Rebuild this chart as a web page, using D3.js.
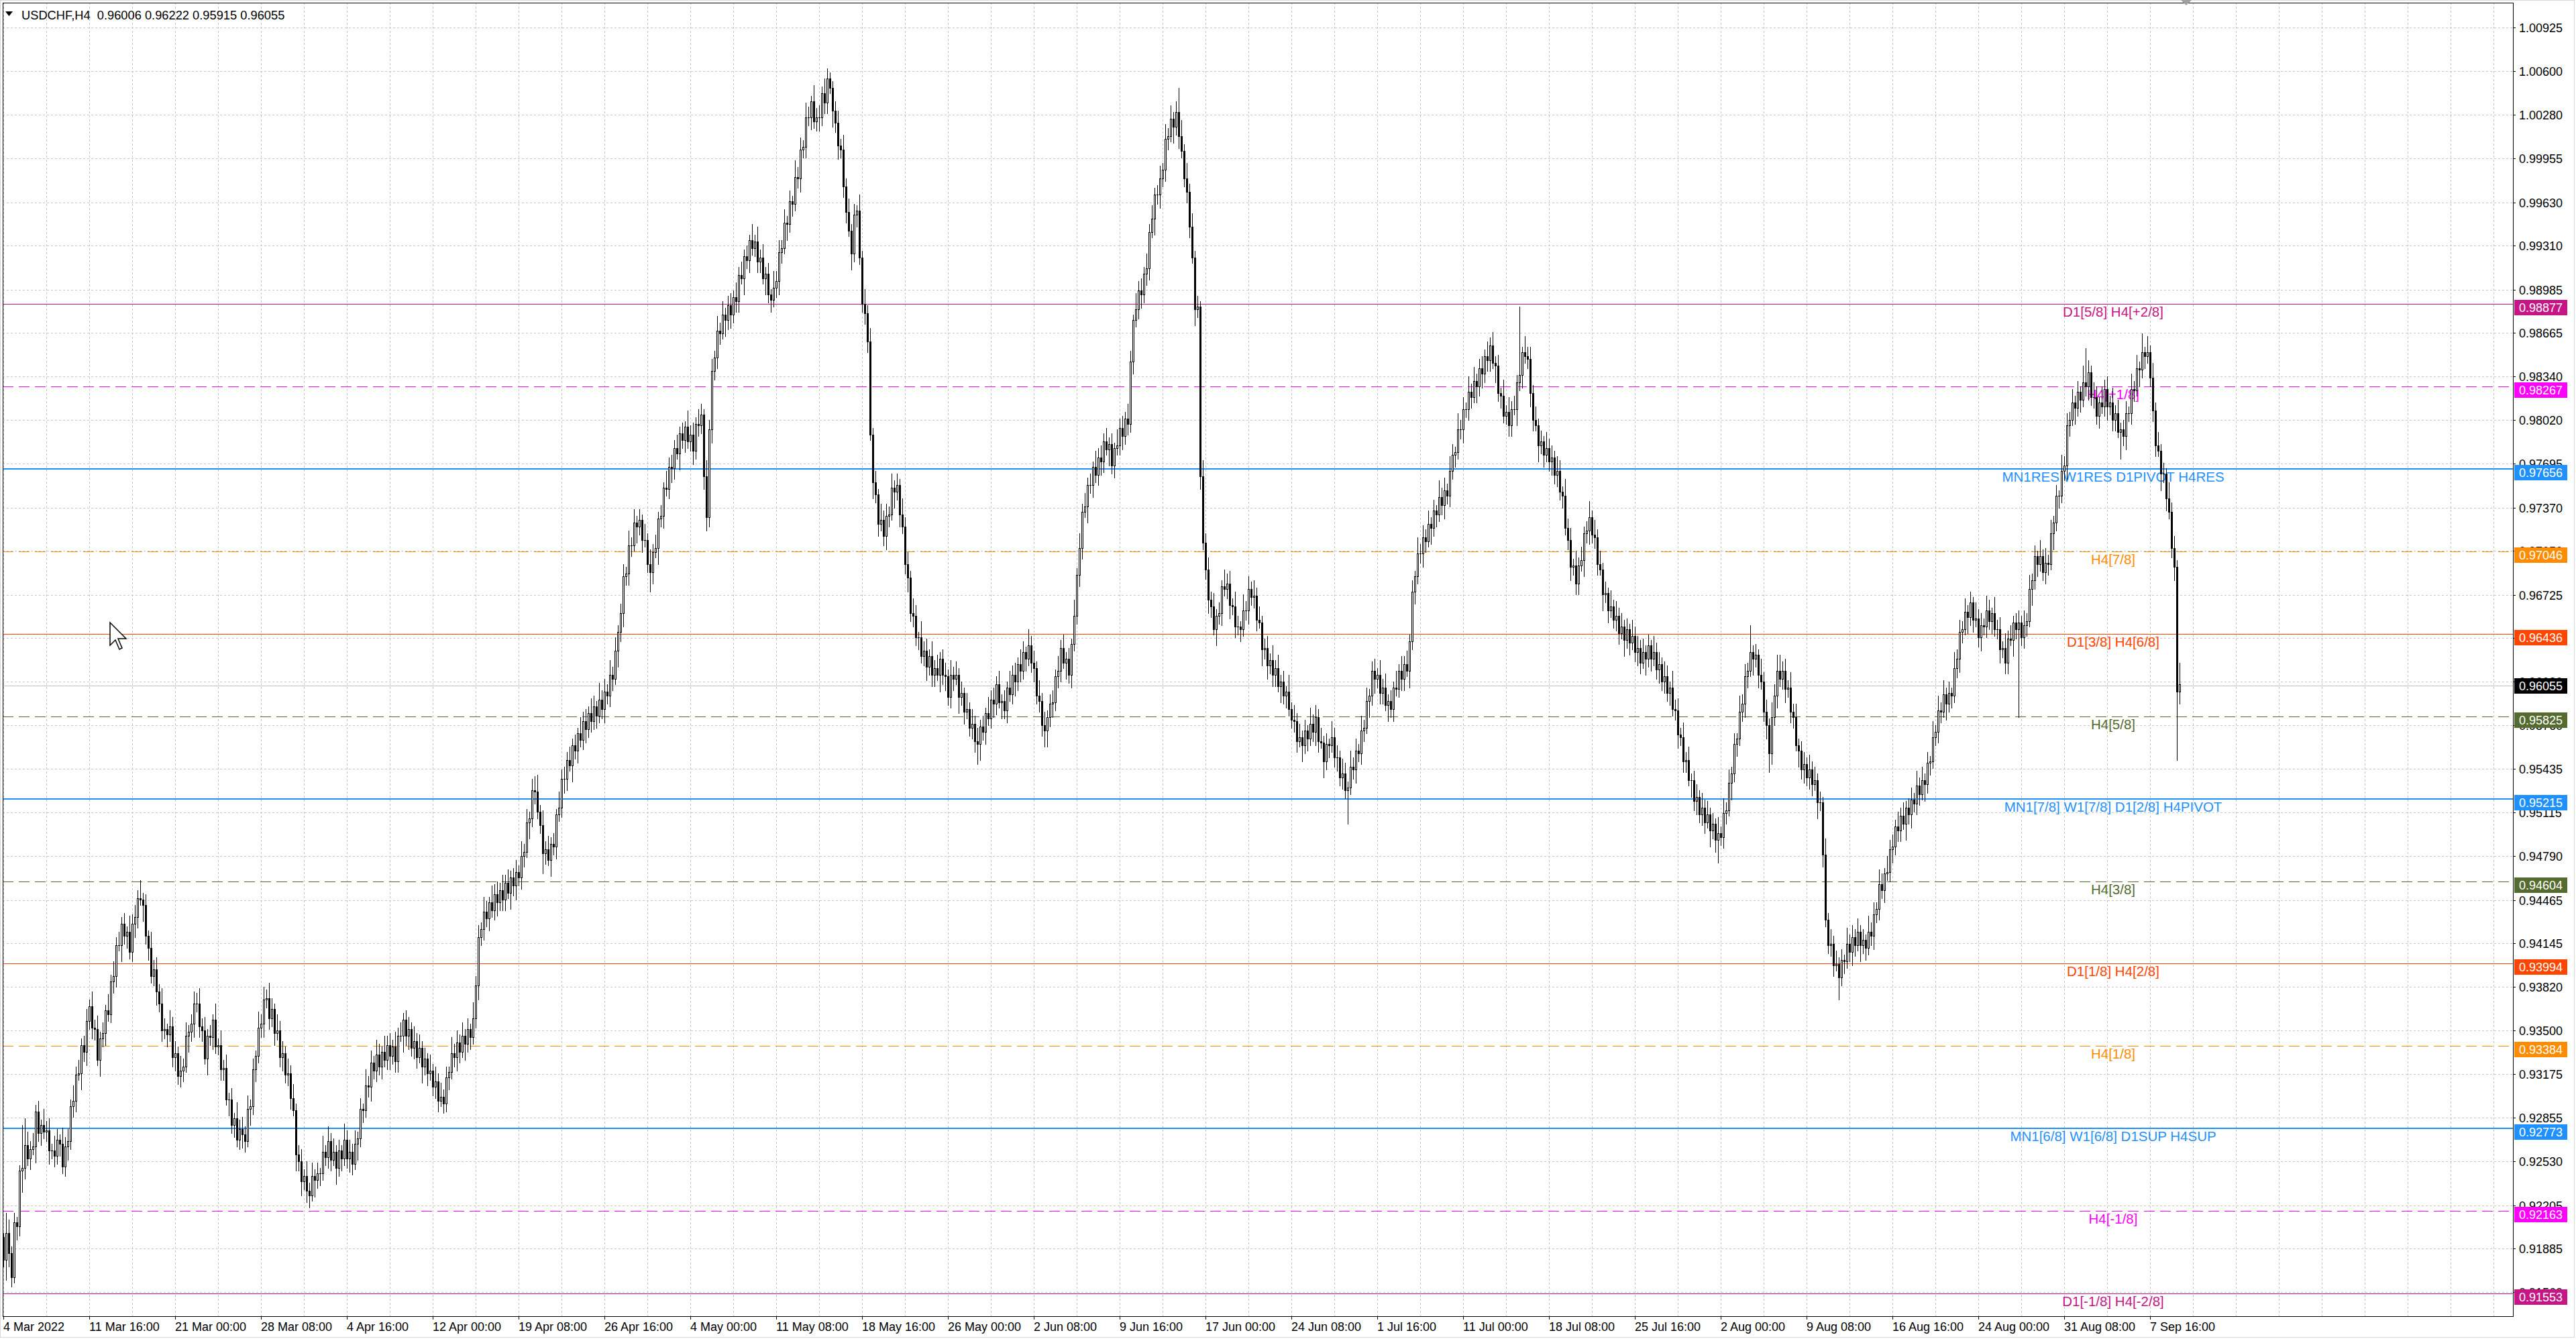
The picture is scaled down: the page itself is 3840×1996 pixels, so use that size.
<!DOCTYPE html>
<html><head><meta charset="utf-8">
<script src="https://cdn.jsdelivr.net/npm/d3@7"></script>
<style>
html,body{margin:0;padding:0;background:#fff;}
svg{display:block;}
text{font-family:"Liberation Sans",Arial,sans-serif;}
</style></head><body>
<svg id="c" width="3840" height="1996"></svg>
<script>
const symbol = "USDCHF,H4";
const lastBar = ["0.96006", "0.96222", "0.95915", "0.96055"];
const timeLabels = ["4 Mar 2022","11 Mar 16:00","21 Mar 00:00","28 Mar 08:00","4 Apr 16:00","12 Apr 00:00","19 Apr 08:00","26 Apr 16:00","4 May 00:00","11 May 08:00","18 May 16:00","26 May 00:00","2 Jun 08:00","9 Jun 16:00","17 Jun 00:00","24 Jun 08:00","1 Jul 16:00","11 Jul 00:00","18 Jul 08:00","25 Jul 16:00","2 Aug 00:00","9 Aug 08:00","16 Aug 16:00","24 Aug 00:00","31 Aug 08:00","7 Sep 16:00"];
const priceTicks = [1.00925,1.00600,1.00280,0.99955,0.99630,0.99310,0.98985,0.98665,0.98340,0.98020,0.97695,0.97370,0.97050,0.96725,0.96405,0.96080,0.95760,0.95435,0.95115,0.94790,0.94465,0.94145,0.93820,0.93500,0.93175,0.92855,0.92530,0.92205,0.91885,0.91560];
const levelPrices = [0.98877,0.98267,0.97656,0.97046,0.96436,0.95825,0.95215,0.94604,0.93994,0.93384,0.92773,0.92163,0.91553];
const levelNames = ["D1[5/8] H4[+2/8]","H4[+1/8]","MN1RES W1RES D1PIVOT H4RES","H4[7/8]","D1[3/8] H4[6/8]","H4[5/8]","MN1[7/8] W1[7/8] D1[2/8] H4PIVOT","H4[3/8]","D1[1/8] H4[2/8]","H4[1/8]","MN1[6/8] W1[6/8] D1SUP H4SUP","H4[-1/8]","D1[-1/8] H4[-2/8]"];
const bidPrice = 0.96055;

// OHLC in pips (price * 10000), one H4 bar per entry
const open = [
9197,9180,9200,9185,9167,9208,9205,9246,9248,9265,
9255,9262,9264,9290,9274,9280,9275,9276,9261,9261,
9257,9269,9266,9249,9264,9268,9294,9298,9317,9318,
9339,9334,9357,9368,9352,9351,9328,9344,9348,9365,
9362,9386,9390,9413,9413,9429,9420,9423,9408,9429,
9434,9448,9447,9443,9420,9411,9390,9395,9379,9370,
9350,9351,9347,9353,9330,9333,9316,9320,9323,9346,
9349,9355,9370,9370,9353,9350,9329,9346,9345,9358,
9338,9339,9321,9322,9299,9299,9280,9285,9269,9277,
9273,9268,9292,9294,9321,9331,9352,9355,9373,9374,
9359,9366,9348,9350,9330,9333,9317,9318,9300,9291,
9258,9253,9238,9242,9231,9228,9242,9239,9244,9244,
9260,9256,9268,9254,9260,9248,9261,9255,9269,9255,
9260,9251,9266,9270,9292,9291,9309,9308,9326,9320,
9332,9323,9334,9328,9339,9331,9338,9327,9346,9346,
9358,9346,9351,9337,9342,9330,9337,9323,9329,9318,
9320,9308,9312,9298,9301,9296,9315,9319,9333,9330,
9341,9334,9346,9340,9351,9345,9359,9383,9419,9425,
9438,9433,9445,9439,9451,9445,9454,9447,9459,9452,
9463,9457,9467,9463,9479,9482,9504,9507,9528,9527,
9512,9502,9481,9484,9476,9488,9486,9510,9515,9536,
9536,9550,9546,9561,9557,9570,9565,9579,9573,9585,
9579,9590,9583,9595,9588,9601,9598,9613,9610,9631,
9645,9659,9686,9688,9709,9709,9726,9723,9728,9713,
9713,9695,9689,9704,9707,9729,9731,9752,9751,9767,
9766,9781,9777,9792,9787,9797,9786,9791,9779,9799,
9798,9806,9760,9730,9795,9838,9848,9868,9866,9880,
9876,9887,9880,9893,9890,9909,9907,9923,9920,9935,
9929,9934,9919,9922,9907,9910,9895,9891,9900,9905,
9926,9929,9948,9947,9964,9962,9982,9981,10002,10004,
10026,10026,10038,10023,10026,10026,10044,10037,10055,10048,
10031,10022,10005,10002,9975,9956,9942,9925,9954,9957,
9922,9888,9881,9860,9791,9756,9747,9725,9728,9716,
9731,9732,9752,9749,9754,9732,9723,9695,9685,9659,
9657,9641,9641,9627,9631,9619,9627,9613,9618,9613,
9625,9613,9612,9597,9613,9610,9613,9597,9600,9586,
9588,9574,9577,9564,9562,9575,9571,9585,9581,9595,
9592,9606,9593,9594,9587,9604,9599,9613,9608,9621,
9616,9630,9625,9635,9622,9618,9598,9594,9576,9572,
9582,9592,9593,9612,9616,9633,9622,9625,9613,9636,
9657,9687,9707,9734,9738,9754,9754,9767,9761,9774,
9771,9786,9780,9784,9768,9781,9783,9796,9790,9803,
9799,9845,9876,9884,9898,9895,9910,9914,9941,9951,
9969,9969,9981,9987,10010,10012,10025,10019,10030,10012,
10001,9981,9971,9945,9922,9884,9886,9760,9711,9691,
9669,9664,9647,9657,9659,9679,9677,9681,9665,9664,
9649,9649,9647,9661,9661,9677,9671,9672,9654,9652,
9632,9633,9620,9624,9613,9618,9605,9608,9598,9601,
9588,9580,9579,9564,9567,9561,9572,9566,9577,9571,
9582,9564,9563,9549,9562,9561,9567,9552,9552,9537,
9540,9528,9530,9545,9543,9557,9555,9572,9574,9594,
9598,9616,9610,9613,9600,9604,9591,9594,9588,9604,
9603,9616,9610,9621,9616,9638,9675,9686,9703,9703,
9715,9712,9725,9722,9735,9732,9745,9739,9750,9746,
9764,9776,9778,9795,9795,9810,9810,9823,9819,9831,
9827,9840,9836,9849,9846,9857,9844,9842,9822,9820,
9805,9808,9798,9810,9810,9830,9835,9852,9849,9847,
9822,9802,9798,9783,9786,9776,9781,9771,9774,9761,
9764,9749,9746,9722,9713,9693,9694,9681,9694,9698,
9718,9720,9730,9717,9715,9695,9691,9673,9674,9661,
9664,9654,9657,9644,9649,9639,9647,9637,9642,9630,
9633,9622,9630,9625,9635,9625,9630,9617,9621,9608,
9612,9600,9604,9588,9587,9569,9567,9549,9550,9535,
9535,9520,9523,9510,9515,9504,9510,9498,9503,9491,
9496,9493,9511,9513,9533,9540,9562,9566,9586,9592,
9612,9616,9630,9625,9628,9613,9608,9586,9576,9555,
9582,9598,9616,9610,9616,9603,9604,9586,9582,9561,
9557,9543,9547,9537,9543,9532,9535,9519,9519,9480,
9432,9413,9414,9398,9399,9389,9402,9401,9414,9408,
9419,9413,9423,9413,9417,9411,9423,9420,9436,9440,
9458,9454,9466,9467,9484,9486,9501,9498,9509,9503,
9515,9510,9521,9518,9531,9525,9535,9532,9548,9549,
9567,9571,9587,9586,9599,9592,9600,9598,9618,9625,
9645,9647,9660,9656,9667,9654,9655,9641,9650,9649,
9661,9653,9659,9647,9647,9632,9633,9622,9640,9639,
9652,9647,9652,9641,9650,9653,9677,9683,9701,9695,
9701,9689,9696,9695,9718,9726,9746,9746,9764,9768,
9798,9802,9815,9811,9823,9817,9830,9827,9837,9819,
9819,9805,9815,9812,9825,9812,9815,9802,9807,9793,
9795,9790,9807,9807,9825,9824,9840,9839,9852,9849,
9852,9833,9809,9783,9779,9762,9762,9744,9734,9707,
9693,9601];
const high = [
9200,9215,9210,9190,9215,9212,9250,9280,9285,9275,
9268,9274,9295,9298,9284,9292,9283,9285,9266,9272,
9277,9273,9278,9271,9277,9299,9309,9323,9328,9344,
9346,9366,9373,9379,9358,9361,9349,9356,9369,9377,
9391,9401,9419,9423,9434,9437,9427,9435,9436,9443,
9454,9461,9452,9451,9424,9423,9402,9404,9384,9381,
9359,9355,9365,9360,9342,9338,9331,9329,9356,9354,
9362,9379,9378,9381,9359,9360,9351,9354,9362,9370,
9344,9350,9328,9332,9304,9307,9289,9297,9284,9286,
9279,9302,9299,9329,9335,9364,9362,9382,9380,9385,
9374,9370,9362,9357,9342,9338,9329,9324,9310,9296,
9265,9262,9247,9253,9237,9252,9247,9252,9248,9272,
9265,9279,9274,9270,9265,9269,9265,9281,9276,9269,
9266,9276,9275,9300,9296,9321,9316,9335,9331,9343,
9340,9338,9346,9346,9348,9343,9349,9352,9356,9363,
9365,9360,9356,9353,9348,9347,9342,9337,9333,9332,
9325,9323,9318,9311,9306,9323,9323,9345,9340,9350,
9347,9356,9351,9359,9355,9371,9390,9428,9430,9449,
9446,9449,9457,9458,9460,9459,9465,9465,9469,9468,
9470,9476,9472,9490,9488,9514,9512,9536,9538,9539,
9517,9513,9490,9494,9493,9496,9514,9527,9543,9545,
9556,9560,9566,9569,9574,9582,9586,9588,9590,9596,
9598,9594,9607,9602,9610,9606,9624,9619,9641,9650,
9666,9695,9693,9720,9715,9736,9731,9736,9732,9725,
9718,9706,9710,9717,9734,9739,9756,9764,9774,9776,
9787,9791,9797,9800,9801,9809,9798,9800,9804,9810,
9814,9810,9772,9802,9847,9853,9879,9874,9890,9885,
9894,9896,9898,9904,9915,9919,9928,9931,9939,9947,
9939,9945,9928,9932,9915,9918,9899,9912,9912,9935,
9935,9958,9953,9972,9968,9994,9989,10011,10009,10037,
10034,10042,10050,10033,10035,10049,10055,10062,10059,10053,
10038,10031,10010,10013,9981,9966,9947,9962,9961,9969,
9927,9899,9887,9870,9796,9764,9751,9740,9735,9740,
9738,9762,9757,9762,9758,9744,9730,9704,9690,9670,
9665,9645,9653,9638,9640,9632,9638,9624,9628,9630,
9632,9622,9617,9624,9619,9623,9618,9608,9604,9600,
9593,9588,9583,9574,9580,9583,9589,9597,9602,9604,
9612,9616,9599,9602,9608,9616,9620,9622,9626,9632,
9638,9634,9647,9642,9631,9623,9609,9600,9586,9587,
9599,9602,9617,9627,9639,9643,9630,9633,9640,9669,
9692,9718,9740,9748,9759,9762,9771,9779,9781,9783,
9792,9796,9789,9792,9785,9795,9803,9805,9808,9814,
9853,9880,9896,9905,9907,9915,9925,9947,9961,9974,
9976,9990,9992,10021,10018,10035,10030,10038,10048,10024,
10006,9992,9977,9955,9927,9894,9890,9772,9718,9700,
9675,9674,9662,9667,9683,9691,9688,9690,9670,9675,
9657,9653,9673,9668,9686,9682,9683,9678,9664,9657,
9640,9642,9629,9635,9624,9628,9613,9616,9605,9613,
9593,9591,9585,9577,9572,9580,9576,9589,9584,9591,
9588,9574,9568,9570,9566,9579,9574,9561,9557,9551,
9548,9534,9557,9552,9566,9562,9583,9580,9604,9603,
9623,9625,9618,9624,9610,9614,9599,9602,9608,9616,
9621,9627,9627,9631,9643,9683,9690,9715,9710,9724,
9721,9735,9730,9743,9739,9757,9752,9759,9755,9775,
9784,9782,9807,9802,9819,9815,9834,9829,9841,9836,
9847,9849,9854,9860,9863,9867,9849,9850,9826,9832,
9813,9819,9816,9820,9835,9886,9856,9864,9856,9856,
9828,9812,9803,9794,9790,9793,9788,9783,9779,9775,
9772,9753,9758,9729,9722,9699,9705,9700,9708,9723,
9727,9742,9735,9728,9721,9705,9696,9682,9678,9676,
9669,9668,9663,9659,9654,9655,9651,9654,9649,9642,
9639,9640,9635,9643,9639,9642,9637,9630,9626,9623,
9620,9608,9616,9595,9596,9574,9578,9556,9560,9540,
9542,9532,9528,9526,9521,9520,9515,9511,9507,9508,
9501,9522,9519,9543,9545,9570,9570,9598,9599,9621,
9622,9650,9635,9636,9632,9625,9615,9595,9581,9593,
9606,9628,9628,9623,9625,9609,9615,9592,9592,9566,
9564,9556,9552,9554,9549,9545,9540,9527,9523,9492,
9437,9425,9420,9409,9404,9410,9406,9426,9421,9428,
9425,9433,9428,9425,9421,9435,9430,9445,9445,9469,
9466,9470,9479,9491,9495,9506,9512,9515,9519,9520,
9522,9530,9526,9542,9537,9545,9540,9556,9553,9579,
9576,9598,9593,9609,9604,9608,9604,9630,9632,9654,
9653,9670,9665,9675,9671,9667,9662,9659,9655,9672,
9669,9663,9671,9654,9656,9638,9644,9646,9650,9657,
9659,9661,9657,9661,9659,9687,9688,9709,9705,9713,
9706,9707,9702,9728,9731,9754,9750,9776,9775,9807,
9808,9825,9820,9831,9827,9842,9855,9846,9842,9830,
9827,9819,9827,9832,9834,9820,9826,9813,9817,9800,
9802,9816,9812,9836,9831,9850,9845,9866,9856,9864,
9857,9844,9815,9793,9784,9770,9766,9756,9741,9716,
9698,9622];
const low = [
9175,9165,9175,9160,9163,9195,9198,9230,9240,9250,
9247,9258,9252,9268,9265,9270,9268,9251,9255,9249,
9251,9257,9244,9242,9254,9262,9286,9290,9313,9306,
9327,9324,9351,9344,9343,9324,9316,9338,9339,9357,
9356,9378,9382,9409,9401,9414,9411,9403,9401,9419,
9426,9443,9431,9414,9402,9385,9383,9369,9364,9342,
9344,9338,9342,9323,9320,9310,9308,9312,9319,9334,
9342,9345,9364,9345,9342,9325,9317,9339,9336,9333,
9332,9313,9313,9295,9287,9274,9271,9264,9262,9263,
9260,9264,9280,9288,9312,9326,9345,9345,9367,9351,
9353,9339,9343,9323,9320,9311,9309,9292,9287,9246,
9246,9228,9232,9223,9219,9224,9227,9233,9235,9239,
9250,9248,9246,9250,9236,9242,9246,9250,9248,9245,
9243,9247,9254,9264,9282,9286,9301,9298,9314,9312,
9317,9314,9323,9321,9321,9325,9319,9319,9342,9334,
9339,9336,9331,9329,9322,9326,9311,9317,9309,9313,
9302,9300,9290,9294,9289,9290,9306,9314,9323,9320,
9326,9330,9328,9334,9336,9340,9352,9373,9413,9417,
9427,9424,9434,9432,9435,9439,9439,9439,9448,9440,
9450,9447,9457,9455,9471,9478,9492,9501,9518,9507,
9496,9466,9473,9472,9464,9480,9477,9505,9508,9526,
9528,9542,9534,9551,9548,9560,9558,9563,9567,9571,
9573,9574,9578,9581,9578,9592,9590,9602,9606,9619,
9638,9649,9680,9680,9701,9705,9711,9717,9704,9708,
9689,9675,9681,9700,9695,9723,9722,9746,9744,9756,
9758,9773,9765,9781,9778,9781,9779,9769,9773,9790,
9792,9751,9720,9723,9785,9832,9840,9858,9862,9864,
9869,9870,9874,9882,9882,9903,9895,9914,9911,9924,
9923,9911,9911,9903,9895,9889,9882,9886,9893,9895,
9918,9925,9935,9941,9953,9957,9974,9971,9996,9996,
10020,10017,10018,10016,10016,10020,10029,10029,10044,10019,
10015,9995,9996,9967,9948,9938,9913,9919,9945,9917,
9882,9873,9852,9787,9744,9741,9716,9720,9709,9706,
9723,9728,9737,9743,9723,9718,9688,9675,9653,9649,
9635,9632,9622,9620,9609,9613,9605,9605,9609,9601,
9606,9602,9591,9589,9602,9606,9585,9591,9577,9581,
9568,9566,9556,9547,9550,9565,9562,9576,9574,9582,
9584,9589,9581,9581,9578,9594,9592,9598,9602,9608,
9610,9616,9620,9615,9608,9592,9586,9568,9560,9560,
9575,9582,9587,9604,9608,9618,9610,9607,9604,9631,
9651,9679,9699,9730,9726,9748,9745,9756,9754,9761,
9763,9776,9768,9762,9759,9776,9776,9780,9784,9791,
9793,9836,9871,9877,9885,9889,9902,9906,9937,9939,
9962,9959,9975,9979,10002,10008,10007,10013,10003,9996,
9975,9963,9937,9918,9872,9878,9751,9706,9684,9659,
9656,9643,9635,9651,9650,9672,9670,9655,9658,9641,
9643,9638,9642,9654,9651,9665,9663,9646,9648,9620,
9625,9610,9614,9605,9605,9601,9593,9592,9589,9583,
9574,9571,9556,9560,9549,9555,9557,9561,9564,9561,
9556,9559,9537,9543,9552,9556,9545,9542,9531,9529,
9522,9503,9525,9536,9533,9549,9547,9564,9570,9582,
9591,9600,9604,9592,9592,9587,9579,9582,9579,9598,
9597,9602,9602,9612,9604,9632,9666,9681,9696,9693,
9704,9708,9710,9716,9723,9727,9732,9729,9740,9738,
9758,9767,9773,9788,9785,9804,9802,9811,9815,9815,
9820,9826,9830,9838,9838,9840,9830,9816,9811,9800,
9799,9790,9790,9806,9798,9824,9826,9844,9840,9812,
9794,9794,9771,9777,9767,9771,9764,9761,9755,9753,
9743,9737,9717,9706,9683,9687,9673,9673,9690,9686,
9711,9710,9711,9707,9687,9687,9661,9667,9652,9656,
9648,9646,9636,9640,9627,9633,9628,9632,9623,9620,
9614,9618,9613,9619,9616,9620,9610,9607,9602,9600,
9594,9591,9583,9580,9559,9561,9541,9541,9531,9523,
9513,9510,9504,9502,9496,9500,9486,9492,9482,9474,
9487,9485,9503,9509,9521,9534,9553,9561,9579,9582,
9604,9612,9613,9619,9604,9603,9579,9566,9541,9547,
9576,9589,9605,9603,9593,9597,9578,9574,9557,9545,
9536,9533,9531,9529,9524,9528,9507,9513,9471,9427,
9407,9405,9390,9394,9373,9383,9392,9396,9401,9398,
9405,9409,9401,9407,9402,9406,9413,9410,9430,9432,
9448,9445,9461,9460,9474,9480,9490,9490,9499,9491,
9503,9500,9512,9510,9517,9521,9520,9526,9539,9544,
9561,9563,9578,9582,9580,9586,9589,9593,9611,9615,
9637,9643,9644,9650,9645,9649,9634,9631,9643,9641,
9647,9644,9642,9640,9622,9626,9614,9614,9635,9627,
9640,9582,9635,9633,9642,9649,9665,9677,9686,9690,
9683,9681,9687,9691,9706,9720,9737,9741,9757,9758,
9790,9798,9799,9805,9808,9812,9820,9817,9813,9811,
9799,9796,9807,9805,9802,9806,9794,9794,9789,9773,
9783,9780,9801,9799,9816,9820,9827,9833,9840,9844,
9827,9801,9775,9775,9750,9756,9735,9729,9700,9683,
9550,9592];
const close = [
9180,9200,9185,9167,9208,9205,9246,9248,9265,9255,
9262,9264,9290,9274,9280,9275,9276,9261,9261,9257,
9269,9266,9249,9264,9268,9294,9298,9317,9318,9339,
9334,9357,9368,9352,9351,9328,9344,9348,9365,9362,
9386,9390,9413,9413,9429,9420,9423,9408,9429,9434,
9448,9447,9443,9420,9411,9390,9395,9379,9370,9350,
9351,9347,9353,9330,9333,9316,9320,9323,9346,9349,
9355,9370,9370,9353,9350,9329,9346,9345,9358,9338,
9339,9321,9322,9299,9299,9280,9285,9269,9277,9273,
9268,9292,9294,9321,9331,9352,9355,9373,9374,9359,
9366,9348,9350,9330,9333,9317,9318,9300,9291,9258,
9253,9238,9242,9231,9228,9242,9239,9244,9244,9260,
9256,9268,9254,9260,9248,9261,9255,9269,9255,9260,
9251,9266,9270,9292,9291,9309,9308,9326,9320,9332,
9323,9334,9328,9339,9331,9338,9327,9346,9346,9358,
9346,9351,9337,9342,9330,9337,9323,9329,9318,9320,
9308,9312,9298,9301,9296,9315,9319,9333,9330,9341,
9334,9346,9340,9351,9345,9359,9383,9419,9425,9438,
9433,9445,9439,9451,9445,9454,9447,9459,9452,9463,
9457,9467,9463,9479,9482,9504,9507,9528,9527,9512,
9502,9481,9484,9476,9488,9486,9510,9515,9536,9536,
9550,9546,9561,9557,9570,9565,9579,9573,9585,9579,
9590,9583,9595,9588,9601,9598,9613,9610,9631,9645,
9659,9686,9688,9709,9709,9726,9723,9728,9713,9713,
9695,9689,9704,9707,9729,9731,9752,9751,9767,9766,
9781,9777,9792,9787,9797,9786,9791,9779,9799,9798,
9806,9760,9730,9795,9838,9848,9868,9866,9880,9876,
9887,9880,9893,9890,9909,9907,9923,9920,9935,9929,
9934,9919,9922,9907,9910,9895,9891,9900,9905,9926,
9929,9948,9947,9964,9962,9982,9981,10002,10004,10026,
10026,10038,10023,10026,10026,10044,10037,10055,10048,10031,
10022,10005,10002,9975,9956,9942,9925,9954,9957,9922,
9888,9881,9860,9791,9756,9747,9725,9728,9716,9731,
9732,9752,9749,9754,9732,9723,9695,9685,9659,9657,
9641,9641,9627,9631,9619,9627,9613,9618,9613,9625,
9613,9612,9597,9613,9610,9613,9597,9600,9586,9588,
9574,9577,9564,9562,9575,9571,9585,9581,9595,9592,
9606,9593,9594,9587,9604,9599,9613,9608,9621,9616,
9630,9625,9635,9622,9618,9598,9594,9576,9572,9582,
9592,9593,9612,9616,9633,9622,9625,9613,9636,9657,
9687,9707,9734,9738,9754,9754,9767,9761,9774,9771,
9786,9780,9784,9768,9781,9783,9796,9790,9803,9799,
9845,9876,9884,9898,9895,9910,9914,9941,9951,9969,
9969,9981,9987,10010,10012,10025,10019,10030,10012,10001,
9981,9971,9945,9922,9884,9886,9760,9711,9691,9669,
9664,9647,9657,9659,9679,9677,9681,9665,9664,9649,
9649,9647,9661,9661,9677,9671,9672,9654,9652,9632,
9633,9620,9624,9613,9618,9605,9608,9598,9601,9588,
9580,9579,9564,9567,9561,9572,9566,9577,9571,9582,
9564,9563,9549,9562,9561,9567,9552,9552,9537,9540,
9528,9530,9545,9543,9557,9555,9572,9574,9594,9598,
9616,9610,9613,9600,9604,9591,9594,9588,9604,9603,
9616,9610,9621,9616,9638,9675,9686,9703,9703,9715,
9712,9725,9722,9735,9732,9745,9739,9750,9746,9764,
9776,9778,9795,9795,9810,9810,9823,9819,9831,9827,
9840,9836,9849,9846,9857,9844,9842,9822,9820,9805,
9808,9798,9810,9810,9830,9835,9852,9849,9847,9822,
9802,9798,9783,9786,9776,9781,9771,9774,9761,9764,
9749,9746,9722,9713,9693,9694,9681,9694,9698,9718,
9720,9730,9717,9715,9695,9691,9673,9674,9661,9664,
9654,9657,9644,9649,9639,9647,9637,9642,9630,9633,
9622,9630,9625,9635,9625,9630,9617,9621,9608,9612,
9600,9604,9588,9587,9569,9567,9549,9550,9535,9535,
9520,9523,9510,9515,9504,9510,9498,9503,9491,9496,
9493,9511,9513,9533,9540,9562,9566,9586,9592,9612,
9616,9630,9625,9628,9613,9608,9586,9576,9555,9582,
9598,9616,9610,9616,9603,9604,9586,9582,9561,9557,
9543,9547,9537,9543,9532,9535,9519,9519,9480,9432,
9413,9414,9398,9399,9389,9402,9401,9414,9408,9419,
9413,9423,9413,9417,9411,9423,9420,9436,9440,9458,
9454,9466,9467,9484,9486,9501,9498,9509,9503,9515,
9510,9521,9518,9531,9525,9535,9532,9548,9549,9567,
9571,9587,9586,9599,9592,9600,9598,9618,9625,9645,
9647,9660,9656,9667,9654,9655,9641,9650,9649,9661,
9653,9659,9647,9647,9632,9633,9622,9640,9639,9652,
9647,9652,9641,9650,9653,9677,9683,9701,9695,9701,
9689,9696,9695,9718,9726,9746,9746,9764,9768,9798,
9802,9815,9811,9823,9817,9830,9827,9837,9819,9819,
9805,9815,9812,9825,9812,9815,9802,9807,9793,9795,
9790,9807,9807,9825,9824,9840,9839,9852,9849,9852,
9833,9809,9783,9779,9762,9762,9744,9734,9707,9693,
9601,9606];

// ---- styles (kept separate from data) ----
const levelStyle = [
  {c:"#C71585", dash:null, w:1},
  {c:"#FF00FF", dash:"16,8", w:1},
  {c:"#1E90FF", dash:null, w:2},
  {c:"#FF8C00", dash:"16,8", w:1},
  {c:"#FF4500", dash:null, w:1},
  {c:"#556B2F", dash:"16,8", w:1},
  {c:"#1E90FF", dash:null, w:2},
  {c:"#556B2F", dash:"16,8", w:1},
  {c:"#FF4500", dash:null, w:1},
  {c:"#FF8C00", dash:"16,8", w:1},
  {c:"#1E90FF", dash:null, w:2},
  {c:"#FF00FF", dash:"16,8", w:1},
  {c:"#C71585", dash:null, w:1}
];

const W = 3840, H = 1996;
const L = 4, R = 3746, T = 4, B = 1962;
const svg = d3.select("#c");

const y = d3.scaleLinear().domain([0.91386, 1.01109]).range([1961.5, 4]);
const x = d3.scaleLinear().domain([0, 1]).range([5, 9]);
const py = v => Math.round(y(v / 10000));

svg.append("rect").attr("x",0).attr("y",0).attr("width",W).attr("height",H).attr("fill","#fff");
svg.append("rect").attr("x",0.5).attr("y",0.5).attr("width",3837).attr("height",1993)
  .attr("fill","none").attr("stroke","#d9d9d9");

const plot = svg.append("g");
const clip = svg.append("clipPath").attr("id","pc");
clip.append("rect").attr("x",L).attr("y",T).attr("width",R-L).attr("height",B-T);
plot.attr("clip-path","url(#pc)");

// grid
const grid = plot.append("g").attr("stroke","#c8c8c8").attr("stroke-dasharray","3,3").attr("shape-rendering","crispEdges");
priceTicks.forEach(v => {
  const yy = Math.round(y(v)) + 0.5;
  grid.append("line").attr("x1",L).attr("x2",R).attr("y1",yy).attr("y2",yy);
});
const nBars = close.length;
for (let i = 0; x(i) < R; i += 16) {
  const xx = Math.round(x(i)) + 0.5;
  grid.append("line").attr("x1",xx).attr("x2",xx).attr("y1",T).attr("y2",B);
}

// level lines
levelPrices.forEach((p, k) => {
  const s = levelStyle[k];
  const yy = Math.round(y(p)) + (s.w === 2 ? 0 : 0.5);
  plot.append("line").attr("x1",L).attr("x2",R).attr("y1",yy).attr("y2",yy)
    .attr("stroke",s.c).attr("stroke-width",s.w).attr("stroke-dasharray",s.dash)
    .attr("shape-rendering","crispEdges");
});
// bid line
plot.append("line").attr("x1",L).attr("x2",R)
  .attr("y1",Math.round(y(bidPrice))+0.5).attr("y2",Math.round(y(bidPrice))+0.5)
  .attr("stroke","#c0c0c0").attr("shape-rendering","crispEdges");

// level names
levelPrices.forEach((p, k) => {
  plot.append("text").attr("x",3150).attr("y",Math.round(y(p)) + 19)
    .attr("text-anchor","middle").attr("font-size",20.5).attr("fill",levelStyle[k].c)
    .text(levelNames[k]);
});

// candles
const cg = plot.append("g").attr("shape-rendering","crispEdges");
for (let i = 0; i < nBars; i++) {
  const cx = Math.round(x(i));
  const yo = py(open[i]), yc = py(close[i]), yh = py(high[i]), yl = py(low[i]);
  cg.append("line").attr("x1",cx+0.5).attr("x2",cx+0.5).attr("y1",yh).attr("y2",yl+1)
    .attr("stroke","#000");
  if (close[i] > open[i]) {
    cg.append("rect").attr("x",cx-0.5).attr("y",yc+0.5).attr("width",2)
      .attr("height",Math.max(yo-yc,0)).attr("fill","#fff").attr("stroke","#000");
  } else if (close[i] < open[i]) {
    cg.append("rect").attr("x",cx-1).attr("y",yo).attr("width",3)
      .attr("height",Math.max(yc-yo+1,1)).attr("fill","#000");
  } else {
    cg.append("rect").attr("x",cx-1).attr("y",yo).attr("width",3).attr("height",1).attr("fill","#000");
  }
}

// frame
svg.append("rect").attr("x",L+0.5).attr("y",T+0.5).attr("width",R-L).attr("height",B-T)
  .attr("fill","none").attr("stroke","#000").attr("shape-rendering","crispEdges");

// right axis
const ax = svg.append("g");
priceTicks.forEach(v => {
  const yy = Math.round(y(v));
  ax.append("line").attr("x1",R).attr("x2",R+4).attr("y1",yy+0.5).attr("y2",yy+0.5)
    .attr("stroke","#000").attr("shape-rendering","crispEdges");
  ax.append("text").attr("x",3755).attr("y",yy+6.5).attr("font-size",18).attr("fill","#000")
    .text(v.toFixed(5));
});
// colored price boxes
levelPrices.forEach((p, k) => {
  const yy = Math.round(y(p));
  ax.append("rect").attr("x",3748).attr("y",yy-6).attr("width",79).attr("height",23)
    .attr("fill",levelStyle[k].c);
  ax.append("text").attr("x",3755).attr("y",yy+12).attr("font-size",18).attr("fill","#fff")
    .text(p.toFixed(5));
});
{
  const yy = Math.round(y(bidPrice));
  ax.append("rect").attr("x",3748).attr("y",yy-11).attr("width",79).attr("height",23).attr("fill","#000");
  ax.append("text").attr("x",3755).attr("y",yy+7).attr("font-size",18).attr("fill","#fff")
    .text(bidPrice.toFixed(5));
}

// bottom axis
timeLabels.forEach((t, k) => {
  const xx = Math.round(x(k * 32));
  ax.append("line").attr("x1",xx+0.5).attr("x2",xx+0.5).attr("y1",B).attr("y2",B+5)
    .attr("stroke","#000").attr("shape-rendering","crispEdges");
  ax.append("text").attr("x",xx).attr("y",1984).attr("font-size",18).attr("fill","#000").text(t);
});

// title
svg.append("path").attr("d","M8,17 L19,17 L13.5,24 Z").attr("fill","#000");
svg.append("text").attr("x",32).attr("y",29).attr("font-size",18.3).attr("fill","#000")
  .attr("xml:space","preserve")
  .text(symbol + "  " + lastBar.join(" "));

// chart shift marker
svg.append("path").attr("d","M3251,0 L3267,0 L3259,8 Z").attr("fill","#a0a0a0");

// mouse cursor
svg.append("path")
  .attr("d","M0,0 L0,34 L8,26 L14,40 L18,38 L12,24 L24,24 Z")
  .attr("transform","translate(164,928)")
  .attr("fill","#fff").attr("stroke","#000").attr("stroke-width",1.5);
</script>
</body></html>
